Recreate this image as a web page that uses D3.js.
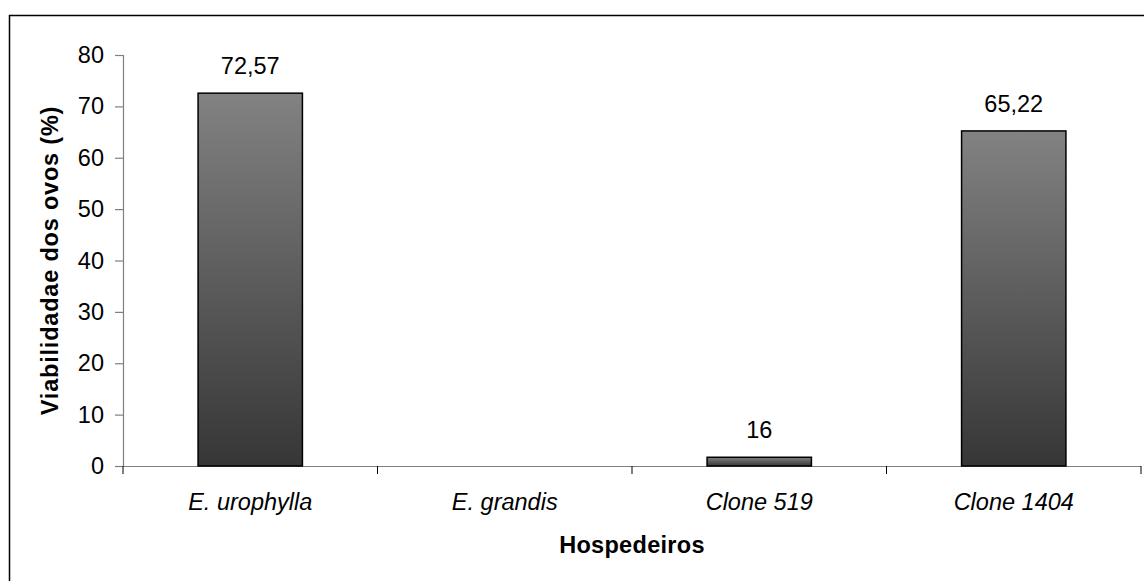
<!DOCTYPE html>
<html>
<head>
<meta charset="utf-8">
<script src="https://cdn.jsdelivr.net/npm/d3@7"></script>
<style>
  body { margin: 0; background: #fff; }
  text { font-family: "Liberation Sans", Arial, sans-serif; fill: #000; }
</style>
</head>
<body>
<div id="chart"></div>
<script>
var svgWidth = 1144;
var svgHeight = 581;

// data
var hosts = ["E. urophylla", "E. grandis", "Clone 519", "Clone 1404"];
var viability = [72.57, 0, 1.7, 65.22];
var valueLabels = ["72,57", "", "16", "65,22"];
var yTicks = [0, 10, 20, 30, 40, 50, 60, 70, 80];

var fontSize = 23.5;

var margin = { top: 55, right: 3, bottom: 115, left: 123 };
var width = svgWidth - margin.left - margin.right;
var height = svgHeight - margin.top - margin.bottom;

var svg = d3.select("#chart")
  .append("svg")
  .attr("width", svgWidth)
  .attr("height", svgHeight);

// gradient for the bars, light on top, dark at the base
var grad = svg.append("defs").append("linearGradient")
  .attr("id", "barGrad")
  .attr("x1", 0).attr("y1", 0).attr("x2", 0).attr("y2", 1);
grad.append("stop").attr("offset", "0%").attr("stop-color", "#828282");
grad.append("stop").attr("offset", "100%").attr("stop-color", "#363636");

// outer frame (only top and left edges visible)
svg.append("rect")
  .attr("x", 9.5)
  .attr("y", 15.5)
  .attr("width", 1200)
  .attr("height", 700)
  .attr("fill", "none")
  .attr("stroke", "#000")
  .attr("stroke-width", 1.5);

var chartGroup = svg.append("g")
  .attr("transform", `translate(${margin.left}, ${margin.top})`);

var xScale = d3.scaleBand()
  .domain(hosts)
  .range([0, width])
  .paddingInner(0.59)
  .paddingOuter(0.295);

var yScale = d3.scaleLinear()
  .domain([0, 80])
  .range([height, 0]);

// y axis
var leftAxis = d3.axisLeft(yScale)
  .tickValues(yTicks)
  .tickSize(8)
  .tickPadding(11);
var yAxis = chartGroup.append("g").call(leftAxis);
yAxis.select(".domain").attr("stroke", "#808080").attr("stroke-width", 1.2);
yAxis.selectAll(".tick line").attr("stroke", "#808080").attr("stroke-width", 1.2);
yAxis.selectAll(".tick text")
  .attr("font-size", fontSize)
  .attr("font-family", "Liberation Sans, Arial, sans-serif");

// x axis line with ticks at category boundaries
var bounds = d3.range(hosts.length + 1).map(i => i * width / hosts.length);
chartGroup.append("line")
  .attr("x1", 0).attr("x2", width)
  .attr("y1", height + 0.5).attr("y2", height + 0.5)
  .attr("stroke", "#808080")
  .attr("stroke-width", 1.2);
chartGroup.selectAll(".xtick")
  .data(bounds)
  .enter()
  .append("line")
  .attr("class", "xtick")
  .attr("x1", d => d).attr("x2", d => d)
  .attr("y1", height).attr("y2", height + 8)
  .attr("stroke", "#000")
  .attr("stroke-width", 1);

var rows = hosts.map((h, i) => ({ host: h, value: viability[i], label: valueLabels[i] }));

// bars
chartGroup.selectAll(".bar")
  .data(rows.filter(d => d.value > 0))
  .enter()
  .append("rect")
  .attr("class", "bar")
  .attr("x", d => xScale(d.host))
  .attr("width", xScale.bandwidth())
  .attr("y", d => yScale(d.value))
  .attr("height", d => height - yScale(d.value))
  .attr("fill", "url(#barGrad)")
  .attr("stroke", "#000")
  .attr("stroke-width", 1.5);

// value labels
chartGroup.selectAll(".vlabel")
  .data(rows)
  .enter()
  .append("text")
  .attr("class", "vlabel")
  .attr("x", d => xScale(d.host) + xScale.bandwidth() / 2)
  .attr("y", d => yScale(d.value) - 19)
  .attr("text-anchor", "middle")
  .attr("font-size", fontSize)
  .text(d => d.label);

// category labels
chartGroup.selectAll(".cat")
  .data(hosts)
  .enter()
  .append("text")
  .attr("class", "cat")
  .attr("x", d => xScale(d) + xScale.bandwidth() / 2)
  .attr("y", height + 44)
  .attr("text-anchor", "middle")
  .attr("font-size", fontSize)
  .attr("font-style", "italic")
  .text(d => d);

// axis titles
chartGroup.append("text")
  .attr("x", width / 2)
  .attr("y", height + 87)
  .attr("text-anchor", "middle")
  .attr("font-size", fontSize)
  .attr("font-weight", "bold")
  .attr("letter-spacing", 0.3)
  .text("Hospedeiros");

chartGroup.append("text")
  .attr("transform", "rotate(-90)")
  .attr("x", -height / 2)
  .attr("y", -65)
  .attr("text-anchor", "middle")
  .attr("font-size", fontSize)
  .attr("font-weight", "bold")
  .attr("letter-spacing", 0.8)
  .text("Viabilidadae dos ovos (%)");
</script>
</body>
</html>
